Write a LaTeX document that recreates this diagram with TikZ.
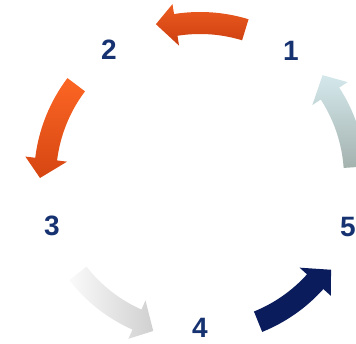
\documentclass[tikz,border=0pt]{standalone}
\usepackage{fontspec}
\setmainfont{Liberation Sans}
\usetikzlibrary{calc}
\definecolor{stepnavy}{RGB}{22,50,112}
\definecolor{darknavy}{RGB}{10,28,92}
\definecolor{redtop}{RGB}{236,92,32}
\definecolor{redbot}{RGB}{204,62,16}
\definecolor{orgtop}{RGB}{252,102,36}
\definecolor{orgbot}{RGB}{214,70,18}
\definecolor{icetop}{RGB}{212,232,236}
\definecolor{icebot}{RGB}{164,178,174}
\definecolor{snowa}{RGB}{250,250,250}
\definecolor{snowb}{RGB}{208,208,208}
\tikzset{
  numlbl/.style={font=\fontsize{28}{30}\selectfont\bfseries, text=stepnavy, inner sep=0pt},
  vshade/.style 2 args={top color=#1, bottom color=#2, draw=none},
  hshade/.style 2 args={left color=#1, right color=#2, draw=none},
}
% curved arrow on the ring: start angle, end angle, look
\newcommand{\ringarrow}[3]{%
  \path[#3] ({#1}:166) arc[start angle={#1}, end angle={#2-7}, radius=166]
    -- ({#2-7}:176) -- ({#2}:160) -- ({#2-7}:134) -- ({#2-7}:144)
    arc[start angle={#2-7}, end angle={#1}, radius=144] -- cycle;}

\begin{document}
\begin{tikzpicture}[x=1pt, y=1pt]
  \useasboundingbox (0,0) rectangle (356,344);
  \clip (0,0) rectangle (356,344);
  \begin{scope}[shift={(200,166)}]
    \ringarrow{73}{106}{vshade={redtop}{redbot}}
    \ringarrow{143}{180}{vshade={orgtop}{orgbot}}
    \ringarrow{218}{253}{hshade={snowa}{snowb}}
    \ringarrow{292}{325}{fill=darknavy}
    \ringarrow{4}{40}{vshade={icetop}{icebot}}
  \end{scope}
  \node[numlbl] (n1) at (291,293) {1};
  \node[numlbl] (n2) at (109,294) {2};
  \node[numlbl] (n3) at (52,118) {3};
  \node[numlbl] (n4) at (200,16) {4};
  \node[numlbl] (n5) at (348,117) {5};
\end{tikzpicture}
\end{document}
